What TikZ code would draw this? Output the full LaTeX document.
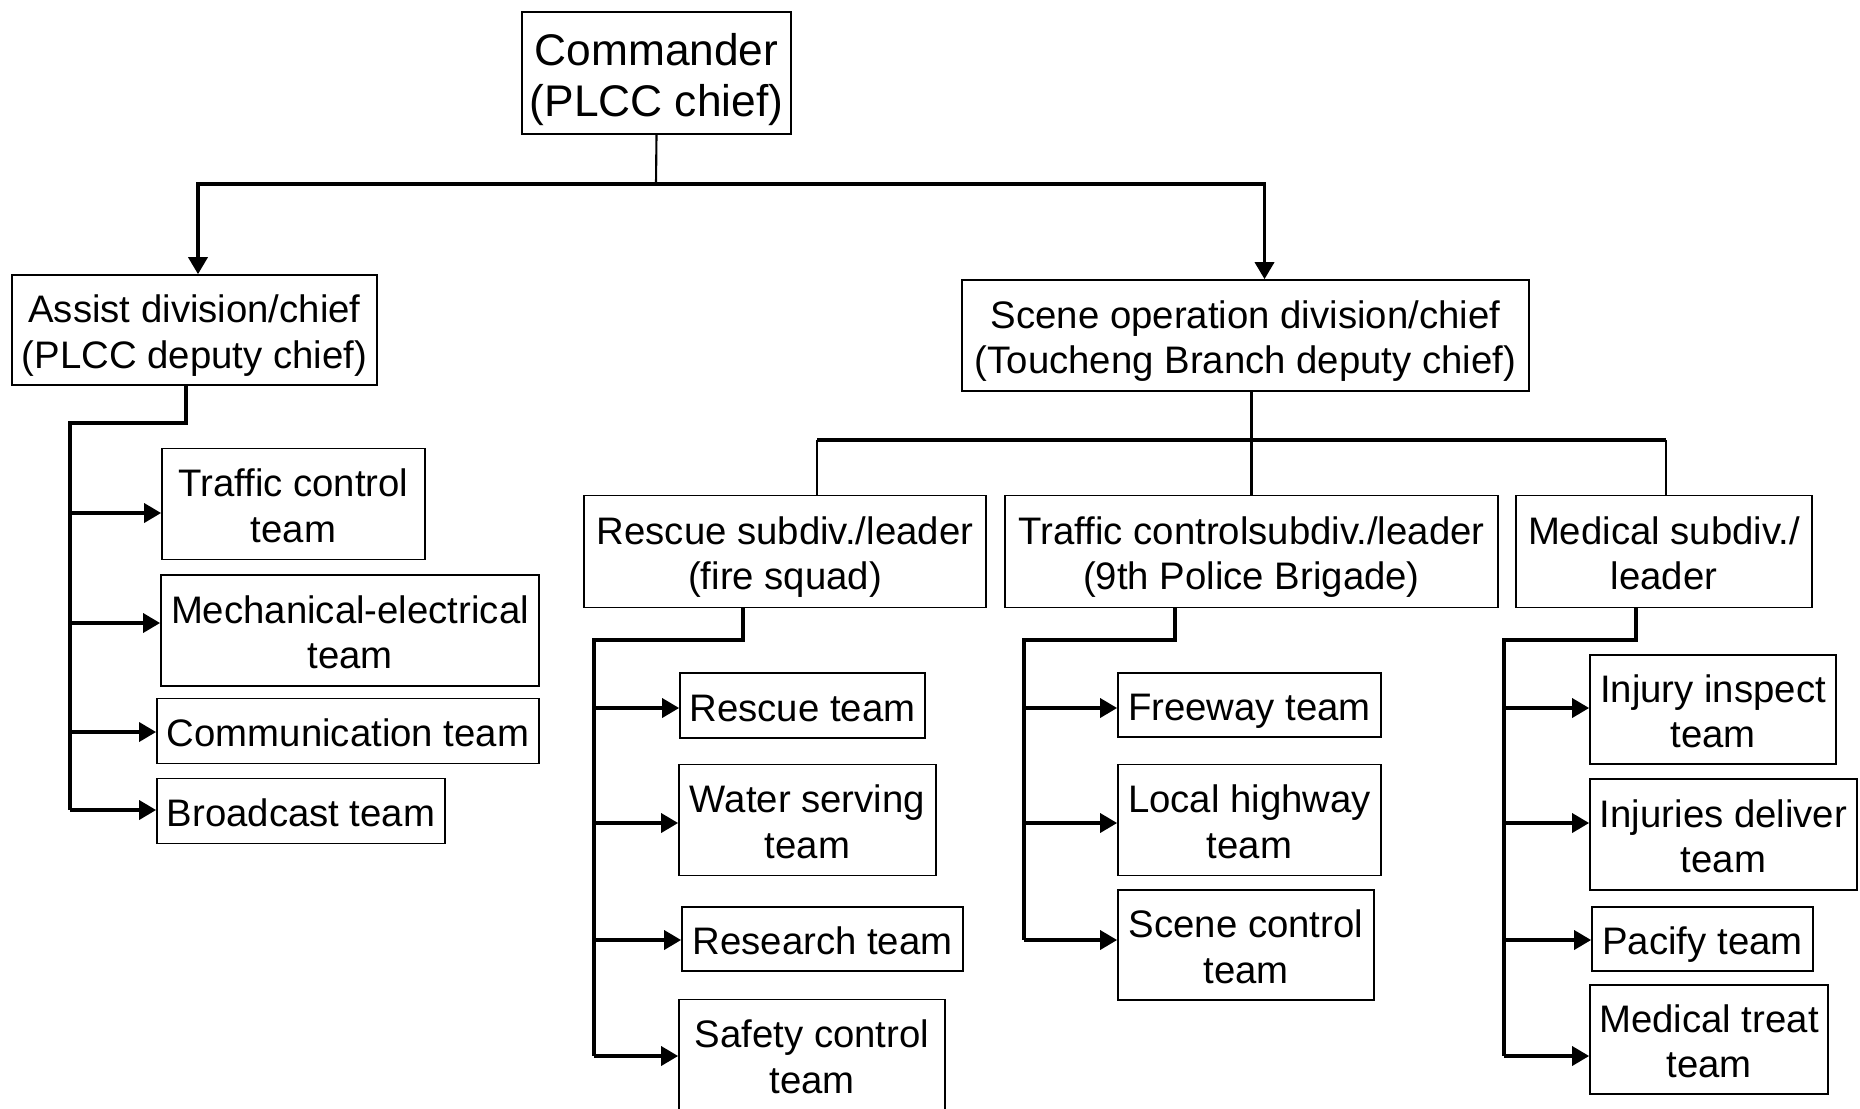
\documentclass[tikz,border=0pt]{standalone}
\usepackage{fontspec}
\setmainfont{Liberation Sans}
\usetikzlibrary{arrows.meta}
\newcommand{\bstrut}{\rule[-0.22em]{0pt}{1.25em}}
\newcommand{\bstrutii}{\rule[-0.22em]{0pt}{\dimexpr\baselineskip+1.25em\relax}}

\begin{document}
\begin{tikzpicture}[x=0.01cm, y=-0.01cm,
		box/.style={draw, line width=0.45pt, align=center, inner sep=0pt, font=\fontsize{10.9pt}{13pt}\selectfont,
			execute at begin node=\bstrut},
		boxii/.style={box, execute at begin node=\bstrutii},
		conn/.style={line width=1pt},
		drop/.style={line width=0.6pt},
		arr/.style={line width=1pt, -{Triangle[length=0.17cm, width=0.19cm]}}]
		\useasboundingbox (0,0) rectangle (1860,1108);
		\clip (0,0) rectangle (1860,1108);

		% command levels
		\node (cmd) at (656.5,73) [boxii, minimum width=2.69cm, minimum height=1.22cm, font=\fontsize{12.6pt}{14.5pt}\selectfont] {Commander\\(PLCC chief)};
		\node (assist) at (194.5,330) [boxii, minimum width=3.65cm, minimum height=1.10cm] {Assist division/chief\\(PLCC deputy chief)};
		\node (scene) at (1245.5,335.5) [boxii, minimum width=5.67cm, minimum height=1.11cm] {Scene operation division/chief\\(Toucheng Branch deputy chief)};
		\node (rescue) at (785,551.5) [boxii, minimum width=4.02cm, minimum height=1.12cm] {Rescue subdiv./leader\\(fire squad)};
		\node (tcsub) at (1251.5,551.5) [boxii, minimum width=4.93cm, minimum height=1.12cm] {Traffic controlsubdiv./leader\\(9th Police Brigade)};
		\node (medsub) at (1664,551.5) [boxii, minimum width=2.96cm, minimum height=1.12cm] {Medical subdiv./\\leader};

		% teams
		\node (trafteam) at (293.5,504) [boxii, minimum width=2.63cm, minimum height=1.11cm] {Traffic control\\team};
		\node (mechteam) at (350,630.5) [boxii, minimum width=3.78cm, minimum height=1.11cm] {Mechanical-electrical\\team};
		\node (commteam) at (348,731) [box, minimum width=3.82cm, minimum height=0.65cm] {Communication team};
		\node (broadteam) at (301,811) [box, minimum width=2.88cm, minimum height=0.65cm] {Broadcast team};

		\node (resteam) at (802.5,705.5) [box, minimum width=2.45cm, minimum height=0.65cm] {Rescue team};
		\node (waterteam) at (807.5,820) [boxii, minimum width=2.57cm, minimum height=1.11cm] {Water serving\\team};
		\node (researchteam) at (822.5,939) [box, minimum width=2.81cm, minimum height=0.64cm] {Research team};
		\node (safetyteam) at (812,1055) [boxii, minimum width=2.66cm, minimum height=1.11cm] {Safety control\\team};

		\node (freewayteam) at (1249.5,705) [box, minimum width=2.63cm, minimum height=0.64cm] {Freeway team};
		\node (highwayteam) at (1249.5,820) [boxii, minimum width=2.63cm, minimum height=1.11cm] {Local highway\\team};
		\node (scenectlteam) at (1246,945) [boxii, minimum width=2.56cm, minimum height=1.10cm] {Scene control\\team};

		\node (inspectteam) at (1713,709.5) [boxii, minimum width=2.46cm, minimum height=1.09cm] {Injury inspect\\team};
		\node (deliverteam) at (1723.5,834.5) [boxii, minimum width=2.67cm, minimum height=1.11cm] {Injuries deliver\\team};
		\node (pacifyteam) at (1702.5,939) [box, minimum width=2.21cm, minimum height=0.64cm] {Pacify team};
		\node (treatteam) at (1709,1039.5) [boxii, minimum width=2.38cm, minimum height=1.09cm] {Medical treat\\team};

		% bends and rows
		\coordinate (cmdbar) at (656,184);
		\coordinate (scL) at (817,440);
		\coordinate (scR) at (1666,440);
		\coordinate (atrunk) at (70,423);
		\coordinate (rtrunk) at (594,640);
		\coordinate (ttrunk) at (1024,640);
		\coordinate (mtrunk) at (1504,640);
		\coordinate (arow1) at (0,513);
		\coordinate (arow2) at (0,623);
		\coordinate (arow3) at (0,732);
		\coordinate (arow4) at (0,810);
		\coordinate (row1) at (0,708);
		\coordinate (row2) at (0,823);
		\coordinate (row3) at (0,940);
		\coordinate (row4) at (0,1056);

		\draw[drop] (cmd.south) -- (cmdbar);
		\draw[arr] (cmdbar) -| ([xshift=0.035cm]assist.north);
		\draw[arr] (cmdbar) -| ([xshift=0.19cm]scene.north);

		\draw[drop] (scene.south -| tcsub.north) -- (tcsub.north);
		\draw[conn] (scL) -- (scR);
		\draw[drop] (scL) -- (scL |- rescue.north);
		\draw[drop] (scR) -- (scR |- medsub.north);

		\draw[conn] ([xshift=-0.085cm]assist.south) |- (atrunk) -- (atrunk |- arow4);
		\draw[conn] ([xshift=-0.42cm]rescue.south) |- (rtrunk) -- (rtrunk |- row4);
		\draw[conn] ([xshift=-0.765cm]tcsub.south) |- (ttrunk) -- (ttrunk |- row3);
		\draw[conn] ([xshift=-0.28cm]medsub.south) |- (mtrunk) -- (mtrunk |- row4);

		\foreach \team/\row in {trafteam/arow1, mechteam/arow2, commteam/arow3, broadteam/arow4}
			\draw[arr] (atrunk |- \row) -- (\team.west |- \row);
		\foreach \team/\row in {resteam/row1, waterteam/row2, researchteam/row3, safetyteam/row4}
			\draw[arr] (rtrunk |- \row) -- (\team.west |- \row);
		\foreach \team/\row in {freewayteam/row1, highwayteam/row2, scenectlteam/row3}
			\draw[arr] (ttrunk |- \row) -- (\team.west |- \row);
		\foreach \team/\row in {inspectteam/row1, deliverteam/row2, pacifyteam/row3, treatteam/row4}
			\draw[arr] (mtrunk |- \row) -- (\team.west |- \row);
	\end{tikzpicture}
\end{document}
